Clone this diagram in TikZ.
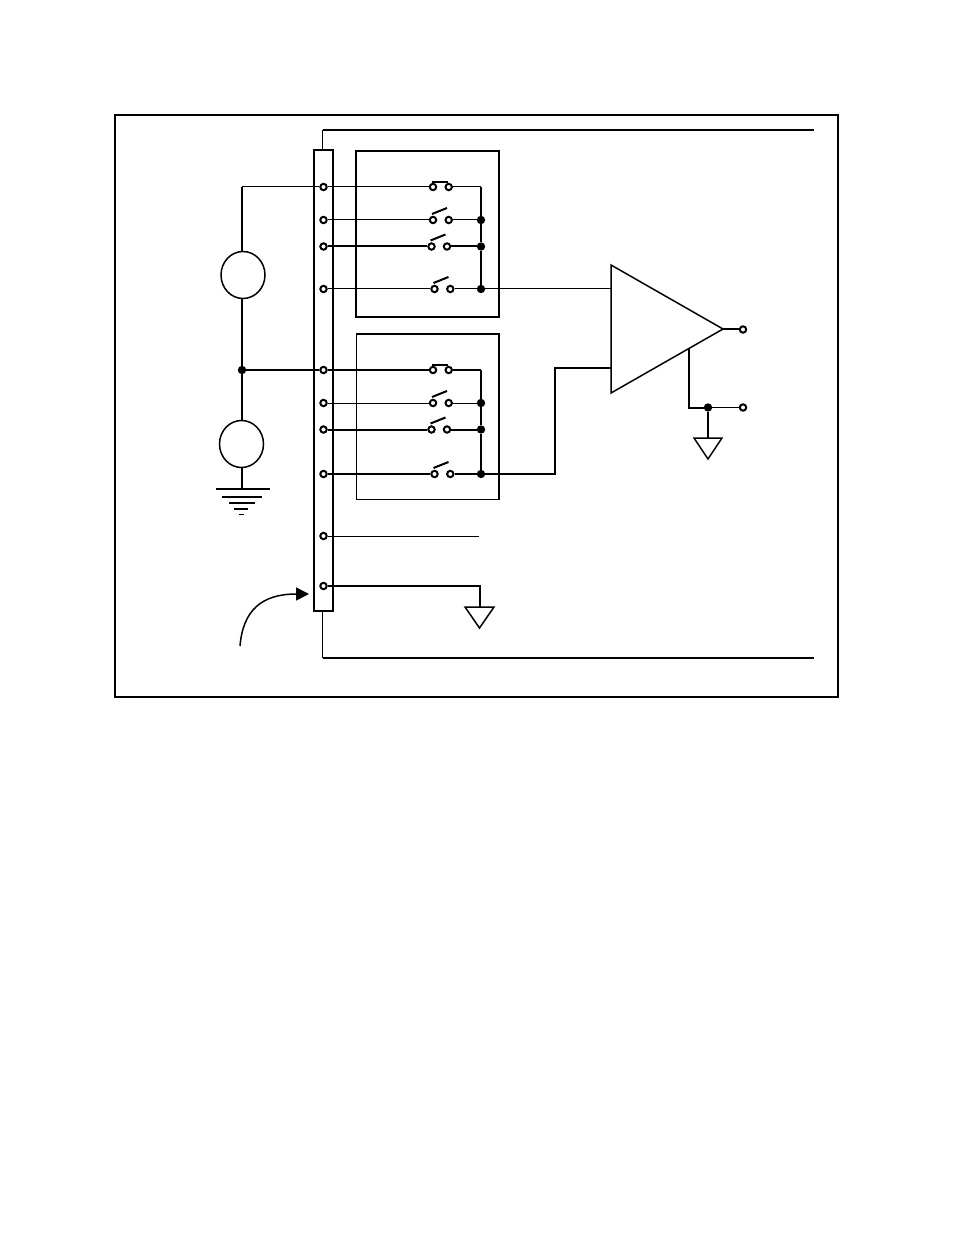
\documentclass[tikz,border=0pt]{standalone}
\usetikzlibrary{arrows.meta,shapes.geometric}
\tikzset{
thinw/.style={line width=0.5pt},
thickw/.style={line width=1pt},
term/.style={circle,draw,thickw,fill=white,inner sep=0pt,minimum size=3.2pt},
jdot/.style={circle,fill=black,inner sep=0pt,outer sep=0pt,minimum size=4.2pt},
panel/.style={draw,inner sep=0pt,rectangle},
src/.style={ellipse,draw,line width=0.75pt,inner sep=0pt,minimum width=22pt,minimum height=23.5pt},
}
\begin{document}
\begin{tikzpicture}[x=0.5pt,y=-0.5pt,line join=miter]
\useasboundingbox (0,0) rectangle (954,1235);
\node (outer) [panel,line width=0.75pt,minimum width=361.5pt,minimum height=291pt] at (476.5,406) {};
\node (strip) [panel,line width=0.75pt,minimum width=9.5pt,minimum height=230.5pt] at (323.5,380.5) {};
\node (boxa) [panel,line width=0.8pt,minimum width=71.5pt,minimum height=83pt] at (427.5,234) {};
\node (boxb) [panel,thinw,minimum width=71pt,minimum height=82.5pt] at (427.5,417) {};
\draw[thickw] (boxb.north west) -- (boxb.north east) -- (boxb.south east); %heavier edges
%frame
\coordinate (fa) at (322.5,130);
\coordinate (fb) at (814,130);
\coordinate (fc) at (322.5,658);
\coordinate (fd) at (814,658);
\draw[thinw] (strip.north -| fa) -- (fa);
\draw[thickw] (fa) -- (fb);
\draw[thinw] (strip.south -| fc) -- (fc);
\draw[thickw] (fc) -- (fd);
%terminals on the strip
\node (ta1) [term] at (323.5,187) {};
\node (ta2) [term] at (323.5,220) {};
\node (ta3) [term] at (323.5,246.5) {};
\node (ta4) [term] at (323.5,289) {};
\node (tb1) [term] at (323.5,370) {};
\node (tb2) [term] at (323.5,403) {};
\node (tb3) [term] at (323.5,429.5) {};
\node (tb4) [term] at (323.5,474) {};
\node (tc) [term] at (323.5,536) {};
\node (td) [term] at (323.5,586) {};
%switches
\node (a1l) [term] at (433,187) {};
\node (a1r) [term] at (448.7,187) {};
\node (a2l) [term] at (433,220) {};
\node (a2r) [term] at (448.7,220) {};
\node (a3l) [term] at (431.5,246.5) {};
\node (a3r) [term] at (447,246.5) {};
\node (a4l) [term] at (434.5,289) {};
\node (a4r) [term] at (450.3,289) {};
\node (b1l) [term] at (433,370) {};
\node (b1r) [term] at (448.7,370) {};
\node (b2l) [term] at (433,403) {};
\node (b2r) [term] at (448.7,403) {};
\node (b3l) [term] at (431.5,429.5) {};
\node (b3r) [term] at (447,429.5) {};
\node (b4l) [term] at (434.5,474) {};
\node (b4r) [term] at (450.3,474) {};
\draw[thickw] ([shift={(-1,-5)}]a1l.center) -- ++(16,0);
\draw[thickw] ([shift={(-1,-6)}]a2l.center) -- ++(15,-6);
\draw[thickw] ([shift={(-1,-6)}]a3l.center) -- ++(15,-6);
\draw[thickw] ([shift={(-1,-6)}]a4l.center) -- ++(15,-6);
\draw[thickw] ([shift={(-1,-5)}]b1l.center) -- ++(16,0);
\draw[thickw] ([shift={(-1,-6)}]b2l.center) -- ++(15,-6);
\draw[thickw] ([shift={(-1,-6)}]b3l.center) -- ++(15,-6);
\draw[thickw] ([shift={(-1,-6)}]b4l.center) -- ++(15,-6);
%junctions
\coordinate (ca) at (481,187);
\node (ja2) [jdot] at (481,220) {};
\node (ja3) [jdot] at (481,246.5) {};
\node (ja4) [jdot] at (481,289) {};
\coordinate (cb) at (481,370);
\node (jb2) [jdot] at (481,403) {};
\node (jb3) [jdot] at (481,429.5) {};
\node (jb4) [jdot] at (481,474) {};
%rows of box a
\draw[thinw] (ta1) -- (a1l);
\draw[thinw] (ta2) -- (a2l);
\draw[thickw] (ta3) -- (a3l);
\draw[thinw] (ta4) -- (a4l);
\draw[thinw] (a1r) -- (ca);
\draw[thinw] (a2r) -- (ja2);
\draw[thickw] (a3r) -- (ja3);
\draw[thinw] (a4r) -- (ja4);
\draw[thickw] (ca) -- (ja2) -- (ja3) -- (ja4);
%rows of box b
\draw[thickw] (tb1) -- (b1l);
\draw[thinw] (tb2) -- (b2l);
\draw[thickw] (tb3) -- (b3l);
\draw[thickw] (tb4) -- (b4l);
\draw[thickw] (b1r) -- (cb);
\draw[thinw] (b2r) -- (jb2);
\draw[thickw] (b3r) -- (jb3);
\draw[thickw] (b4r) -- (jb4);
\draw[thickw] (cb) -- (jb2) -- (jb3) -- (jb4);
%amp
\coordinate (ampa) at (611,265);
\coordinate (ampb) at (723,329);
\coordinate (ampc) at (611,393);
\coordinate (ina) at (611,289);
\coordinate (inb) at (611,368);
\coordinate (sense) at (689,349);
\draw[line width=0.75pt] (ampa) -- (ampb) -- (ampc) -- cycle;
\draw[thinw] (ja4) -- (ina);
\draw[thickw] (jb4) -- (554.5,474) -- (554.5,368) -- (inb);
\node (out) [term] at (743,329.5) {};
\node (ref) [term] at (743,407.5) {};
\node (jr) [jdot] at (708,407.5) {};
\draw[thickw] (ampb) -- (out.west |- ampb);
\draw[thickw] (sense) |- (jr);
\draw[thinw] (jr) -- (ref);
%amp ground
\coordinate (gra) at (708,438);
\draw[thickw] (jr) -- (gra);
\draw[line width=0.75pt] (694,438) -- (722,438) -- (708,459) -- cycle;
%sources
\node (srca) [src] at (243,275) {};
\node (srcb) [src] at (241.5,444) {};
\node (jm) [jdot] at (242,370) {};
\coordinate (topw) at (242,187);
\coordinate (gnd) at (242,489);
\draw[thinw] (ta1) -- (topw);
\draw[line width=0.75pt] (topw) -- (srca.north -| topw);
\draw[line width=0.75pt] (srca.south -| jm) -- (jm);
\draw[line width=0.75pt] (jm) -- (srcb.north -| jm);
\draw[line width=0.75pt] (srcb.south -| gnd) -- (gnd);
\draw[thickw] (jm) -- (tb1);
%earth
\draw[thickw] (216,489) -- (270,489);
\draw[thickw] (222,497) -- (262,497);
\draw[thickw] (229,503) -- (255,503);
\draw[thickw] (234,509) -- (248,509);
\draw[thinw] (239,514) -- (244,514);
%lower rows
\coordinate (ce) at (479,536);
\coordinate (cf) at (479.5,586);
\coordinate (cg) at (479.5,607);
\draw[thinw] (tc) -- (ce);
\draw[thickw] (td) -- (cf) -- (cg);
\draw[line width=0.75pt] (465,607) -- (494,607) -- (479.5,628) -- cycle;
%pointer
\coordinate (pt) at (240,646);
\coordinate (pth) at (309,594);
\draw[line width=0.75pt,-{Triangle[length=6.5pt,width=6.5pt]}] (pt) .. controls (243,610) and (262,594) .. (pth);
\end{tikzpicture}
\end{document}
